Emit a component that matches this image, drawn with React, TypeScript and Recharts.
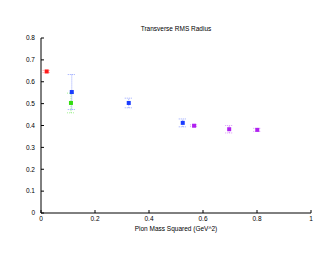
import { ScatterChart, Scatter, XAxis, YAxis, ErrorBar } from 'recharts';

// values
const xTicks = [0, 0.2, 0.4, 0.6, 0.8, 1];
const yTicks = [0, 0.1, 0.2, 0.3, 0.4, 0.5, 0.6, 0.7, 0.8];

const redX = [0.021];
const redY = [0.647];
const redErr = [0.005];

const blueX = [0.114, 0.325, 0.525];
const blueY = [0.553, 0.503, 0.412];
const blueErr = [[0.08, 0.08], [0.022, 0.022], [0.018, 0.018]];

const greenX = [0.111];
const greenY = [0.503];
const greenErr = [[0.045, 0.045]];

const magentaX = [0.567, 0.697, 0.801];
const magentaY = [0.399, 0.383, 0.38];
const magentaErr = [0.004, 0.017, 0.007];

const build = (xs: number[], ys: number[], errs: any[]) =>
  xs.map((x, i) => ({ x, y: ys[i], err: errs[i] }));

const series = [
  { name: 'red', color: '#ff1a1a', data: build(redX, redY, redErr) },
  { name: 'green', color: '#33dd11', data: build(greenX, greenY, greenErr) },
  { name: 'blue', color: '#1a3cff', data: build(blueX, blueY, blueErr) },
  { name: 'magenta', color: '#b020f0', data: build(magentaX, magentaY, magentaErr) },
];

const font = { fontFamily: '"Liberation Sans", Arial, sans-serif', fontSize: 6.5, fill: '#000' };

const fmt = (v: number) => String(v);

// tick components: draw the inward tick mark plus the label
const LeftTick = (props: any) => {
  const { x, y, payload } = props;
  const ax = x + 6;
  return (
    <g>
      <line x1={ax} x2={ax + 3} y1={y} y2={y} stroke="#000" strokeWidth={1} />
      <text x={x} y={y} dy="0.35em" textAnchor="end" {...font}>{fmt(payload.value)}</text>
    </g>
  );
};

const BottomTick = (props: any) => {
  const { x, y, payload } = props;
  const ay = y - 3;
  return (
    <g>
      <line x1={x} x2={x} y1={ay} y2={ay - 3} stroke="#000" strokeWidth={1} />
      <text x={x} y={y} dy="0.71em" textAnchor="middle" {...font}>{fmt(payload.value)}</text>
    </g>
  );
};

const RightTick = (props: any) => {
  const { x, y } = props;
  return <line x1={x} x2={x - 3} y1={y} y2={y} stroke="#000" strokeWidth={1} />;
};

const TopTick = (props: any) => {
  const { x, y } = props;
  return <line x1={x} x2={x} y1={y} y2={y + 3} stroke="#000" strokeWidth={1} />;
};

const Square = (props: any) => {
  const { cx, cy, fill } = props;
  return <rect x={cx - 2} y={cy - 2} width={4} height={4} fill={fill} />;
};

export default function App() {
  return (
    <div style={{ position: 'absolute', left: 0, top: 0, width: 330, height: 255, background: '#fff' }}>
      <div
        style={{
          position: 'absolute',
          left: 41,
          width: 270,
          top: 25,
          textAlign: 'center',
          fontFamily: font.fontFamily,
          fontSize: 6.5,
        }}
      >
        Transverse RMS Radius
      </div>
      <div
        style={{
          position: 'absolute',
          left: 41,
          width: 270,
          top: 225,
          textAlign: 'center',
          fontFamily: font.fontFamily,
          fontSize: 6.5,
        }}
      >
        Pion Mass Squared (GeV^2)
      </div>
      <ScatterChart width={330} height={255} margin={{ top: 38, right: 19, bottom: 0, left: 0 }}>
        <XAxis
          xAxisId="b"
          type="number"
          dataKey="x"
          domain={[0, 1]}
          ticks={xTicks}
          interval={0}
          height={42}
          tickLine={false}
          tickSize={0}
          tickMargin={3}
          axisLine={{ stroke: '#000', strokeWidth: 1 }}
          tick={<BottomTick />}
        />
        <XAxis
          xAxisId="t"
          orientation="top"
          type="number"
          dataKey="x"
          domain={[0, 1]}
          ticks={xTicks}
          interval={0}
          height={0}
          tickLine={false}
          tickSize={0}
          tickMargin={0}
          axisLine={{ stroke: '#000', strokeWidth: 1 }}
          tick={<TopTick />}
        />
        <YAxis
          yAxisId="l"
          type="number"
          dataKey="y"
          domain={[0, 0.8]}
          ticks={yTicks}
          interval={0}
          width={41}
          tickLine={false}
          tickSize={0}
          tickMargin={6}
          axisLine={{ stroke: '#000', strokeWidth: 1 }}
          tick={<LeftTick />}
        />
        <YAxis
          yAxisId="r"
          orientation="right"
          type="number"
          dataKey="y"
          domain={[0, 0.8]}
          ticks={yTicks}
          interval={0}
          width={0}
          tickLine={false}
          tickSize={0}
          tickMargin={0}
          axisLine={{ stroke: '#999', strokeWidth: 1.5 }}
          tick={<RightTick />}
        />
        {series.map((s) => (
          <Scatter
            key={s.name}
            name={s.name}
            data={s.data}
            xAxisId="b"
            yAxisId="l"
            fill={s.color}
            shape={<Square />}
            isAnimationActive={false}
          >
            <ErrorBar
              dataKey="err"
              direction="y"
              width={4}
              stroke={s.color}
              strokeOpacity={0.45}
              strokeDasharray="1 1"
              strokeWidth={1}
            />
          </Scatter>
        ))}
      </ScatterChart>
    </div>
  );
}
